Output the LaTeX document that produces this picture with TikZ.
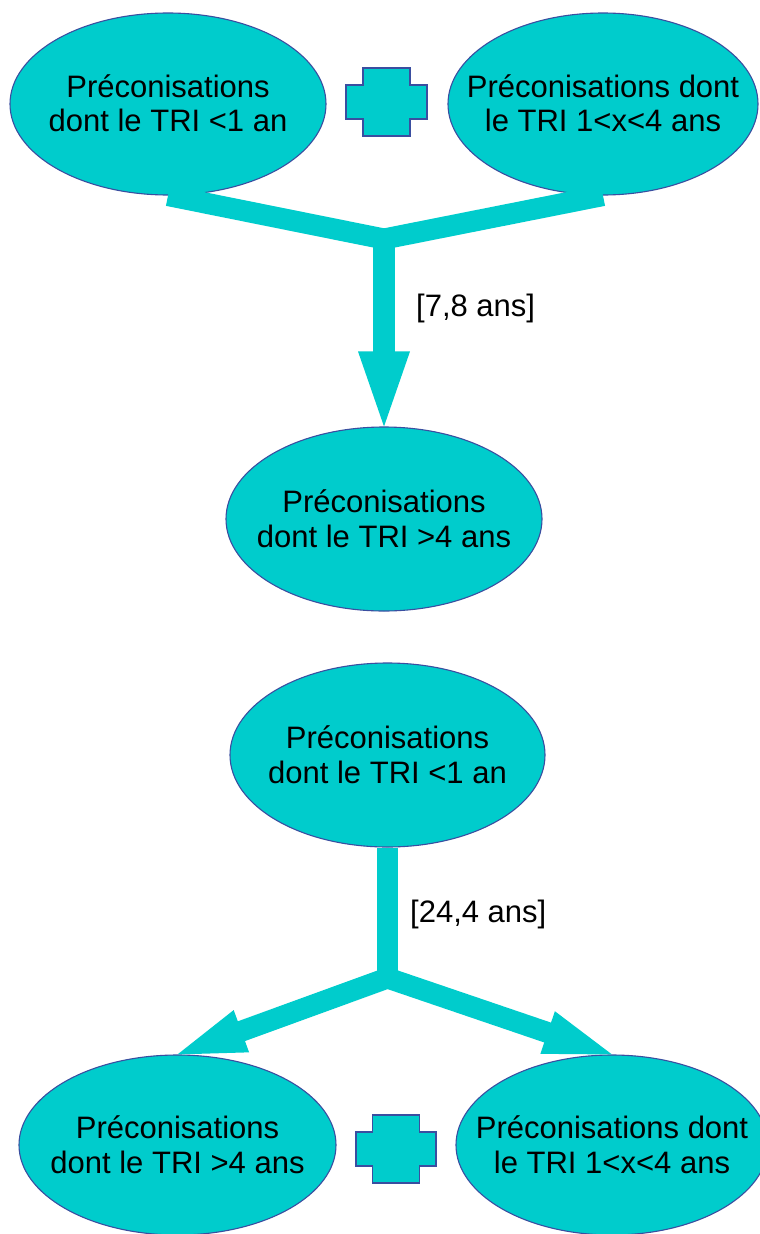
\documentclass[tikz,border=0pt]{standalone}
\usepackage{fontspec}
\setmainfont{Liberation Sans}
\usetikzlibrary{shapes.geometric,calc}
\definecolor{tealfill}{RGB}{0,204,204}
\definecolor{edgeblue}{RGB}{58,78,160}
\begin{document}
\begin{tikzpicture}[x=1pt,y=-1pt,
  bubble/.style={ellipse, draw=edgeblue, line width=1.1pt, fill=tealfill,
    inner sep=-40pt, align=center, font=\fontsize{31}{34.5}\selectfont,
    text height=62.56pt, text depth=6.57pt},
  arm/.style={draw=tealfill, line width=#1, line join=miter, line cap=butt},
  head/.style={fill=tealfill},
  plusst/.style={draw=edgeblue, fill=tealfill, line width=1.1pt},
  lbl/.style={anchor=base west, inner sep=0pt, font=\fontsize{31}{34.5}\selectfont}]
\useasboundingbox[fill=white] (0,0) rectangle (760,1234);

% ---------- upper diagram ----------
\node[bubble, minimum width=316pt, minimum height=182pt] (tl) at (168,104)
  {Préconisations\\dont le TRI <1 an};
\node[bubble, minimum width=310pt, minimum height=182pt] (tr) at (603,104)
  {Préconisations dont\\le TRI 1<x<4 ans};
\node[bubble, minimum width=316pt, minimum height=184pt] (mid) at (384,519)
  {Préconisations\\dont le TRI >4 ans};

\begin{scope}[shift={(386.5,102)}]
  \draw[plusst] (-40.5,-17) -- (-23.5,-17) -- (-23.5,-34) -- (23.5,-34) -- (23.5,-17)
    -- (40.5,-17) -- (40.5,17) -- (23.5,17) -- (23.5,34) -- (-23.5,34) -- (-23.5,17)
    -- (-40.5,17) -- cycle;
\end{scope}

\coordinate (j1) at (384,239);
\coordinate (b1) at ($(mid.north)!75pt!(j1)$);
\coordinate (b1e) at ($(mid.north)!73pt!(j1)$);
\draw[arm=21pt] (tl.south) -- (j1) -- (tr.south);
\draw[arm=22.6pt] (j1) -- (b1e);
\fill[head] ($(b1)!26pt!90:(mid.north)$) -- ($(b1)!26pt!-90:(mid.north)$) -- (mid.north) -- cycle;
\node[lbl] (lab1) at (416,316) {[7,8 ans]};

% ---------- lower diagram ----------
\node[bubble, minimum width=315pt, minimum height=184pt] (mid2) at (387.5,755)
  {Préconisations\\dont le TRI <1 an};
\node[bubble, minimum width=317pt, minimum height=180pt] (bl) at (177.5,1145)
  {Préconisations\\dont le TRI >4 ans};
\node[bubble, minimum width=312pt, minimum height=180pt] (br) at (612,1145)
  {Préconisations dont\\le TRI 1<x<4 ans};

\begin{scope}[shift={(396,1149)}]
  \draw[plusst] (-40,-17) -- (-23.5,-17) -- (-23.5,-34) -- (23.5,-34) -- (23.5,-17)
    -- (40,-17) -- (40,17) -- (23.5,17) -- (23.5,34) -- (-23.5,34) -- (-23.5,17)
    -- (-40,17) -- cycle;
\end{scope}

\coordinate (lvl) at (0,978);
\coordinate (j2) at (mid2.south |- lvl);
\draw[arm=21pt] (mid2.south) -- (j2);
\coordinate (bL) at ($(bl.north)!68pt!(j2)$);
\coordinate (bLe) at ($(bl.north)!66pt!(j2)$);
\coordinate (bR) at ($(br.north)!68pt!(j2)$);
\coordinate (bRe) at ($(br.north)!66pt!(j2)$);
\draw[arm=21pt] (bLe) -- (j2) -- (bRe);
\fill[head] ($(bL)!22.5pt!90:(bl.north)$) -- ($(bL)!22.5pt!-90:(bl.north)$) -- (bl.north) -- cycle;
\fill[head] ($(bR)!22.5pt!90:(br.north)$) -- ($(bR)!22.5pt!-90:(br.north)$) -- (br.north) -- cycle;
\node[lbl] (lab2) at (410,922) {[24,4 ans]};
\end{tikzpicture}
\end{document}
